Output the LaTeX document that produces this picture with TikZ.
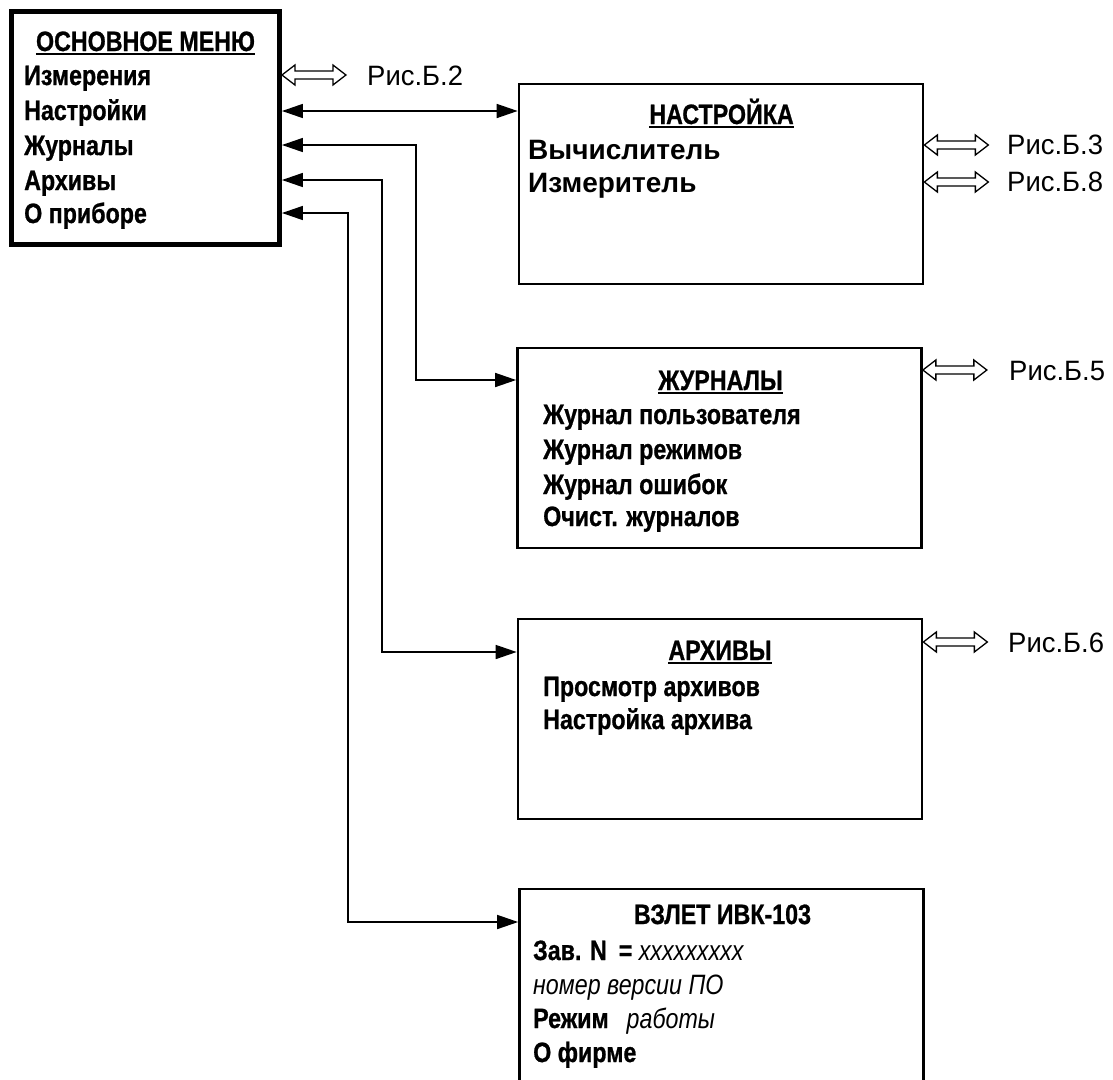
\documentclass[tikz,border=0pt]{standalone}
\usepackage{fontspec}
\setmainfont{Liberation Sans}
\newfontfamily\nfont{Liberation Sans}[FakeStretch=0.83, BoldFeatures={FakeBold=0.8}]
\newfontfamily\wfont{Liberation Sans}[FakeStretch=1.0]
\newfontfamily\rfont{Liberation Sans}[FakeStretch=0.98]
\usetikzlibrary{arrows.meta,calc}
\tikzset{
  harrow/.pic={\draw[line width=1.3pt, line join=miter, fill=white]
     (0,0) -- (13,-10) -- (13,-4) -- (51,-4) -- (51,-10) -- (64,0)
     -- (51,10) -- (51,4) -- (13,4) -- (13,10) -- cycle;},
  menubox/.style={draw, line width=2.7pt, rectangle, inner sep=0pt, minimum width=404pt},
  conn/.style={line width=1.6pt, {Triangle[length=21pt,width=14pt]}-{Triangle[length=21pt,width=14pt]}},
  itm/.style={anchor=base west, inner sep=0pt, font=\nfont\bfseries\fontsize{28}{32}\selectfont},
  ttl/.style={anchor=base, inner sep=0pt, font=\nfont\bfseries\fontsize{28}{32}\selectfont},
  wide/.style={anchor=base west, inner sep=0pt, font=\wfont\bfseries\fontsize{28}{32}\selectfont},
  ris/.style={anchor=base west, inner sep=0pt, font=\rfont\fontsize{28}{32}\selectfont},
  uline/.style={line width=1.8pt}
}
\begin{document}
\begin{tikzpicture}[x=1pt,y=-1pt]
\clip (0,0) rectangle (1113,1079);
\fill[white] (0,0) rectangle (1113,1079);

% main menu
\node[draw, line width=4.5pt, rectangle, inner sep=0pt, minimum width=268.4pt, minimum height=233.4pt] (main) at (145.5,128) {};
\node[ttl] (mt) at (145.5,51) {ОСНОВНОЕ МЕНЮ};
\draw[uline] ([yshift=-3pt]mt.base west) -- ([yshift=-3pt]mt.base east);
\node[itm] (i1) at (24,85) {Измерения};
\node[itm] (i2) at (24,120) {Настройки};
\node[itm] (i3) at (24,155) {Журналы};
\node[itm] (i4) at (24,190) {Архивы};
\node[itm] (i5) at (24,223) {О приборе};

% boxes
\node[menubox, minimum height=200pt] (nast) at (721,184) {};
\node[menubox, minimum height=200pt] (jur) at (719.5,448) {};
\node[menubox, minimum height=200pt] (arh) at (720,719) {};
\node[menubox, minimum width=404pt, minimum height=240pt] (vzl) at (721.5,1009) {};

% Настройка
\node[ttl] (nt) at (721.5,124) {НАСТРОЙКА};
\draw[uline] ([yshift=-3pt]nt.base west) -- ([yshift=-3pt]nt.base east);
\node[wide] (n1) at (528,159) {Вычислитель};
\node[wide] (n2) at (528,192) {Измеритель};

% Журналы
\node[ttl] (jt) at (720.5,390) {ЖУРНАЛЫ};
\draw[uline] ([yshift=-3pt]jt.base west) -- ([yshift=-3pt]jt.base east);
\node[itm] (j1) at (543,424) {Журнал пользователя};
\node[itm] (j2) at (543,459) {Журнал режимов};
\node[itm] (j3) at (543,494) {Журнал ошибок};
\node[itm] (j4) at (543,526) {Очист. журналов};

% Архивы
\node[ttl] (at) at (720,660) {АРХИВЫ};
\draw[uline] ([yshift=-3pt]at.base west) -- ([yshift=-3pt]at.base east);
\node[itm] (a1) at (543,696) {Просмотр архивов};
\node[itm] (a2) at (543,729) {Настройка архива};

% ВЗЛЕТ
\node[ttl] (vt) at (722.5,924) {ВЗЛЕТ ИВК-103};
\node[itm] (v1) at (533,960) {Зав. N\hspace{12pt}= {\mdseries\itshape xxxxxxxxx}};
\node[itm, font=\nfont\itshape\fontsize{28}{32}\selectfont] (v2) at (533,994) {номер версии ПО};
\node[itm] (v3) at (533,1028) {Режим\hspace{18pt}{\mdseries\itshape работы}};
\node[itm] (v4) at (533,1062) {О фирме};

% connectors
\coordinate (y2) at (0,111);
\coordinate (k3) at (416,145);
\coordinate (k4) at (382,180);
\coordinate (k5) at (348,213);
\coordinate (yj) at (0,380);
\coordinate (ya) at (0,652);
\coordinate (yv) at (0,922);
\draw[conn] (main.east |- y2) -- (nast.west |- y2);
\draw[conn] (main.east |- k3) -- (k3) |- (jur.west |- yj);
\draw[conn] (main.east |- k4) -- (k4) |- (arh.west |- ya);
\draw[conn] (main.east |- k5) -- (k5) |- (vzl.west |- yv);

% hollow arrows and figure references
\coordinate (h2) at (0,75);
\coordinate (h3) at (0,145);
\coordinate (h8) at (0,182);
\coordinate (h5) at (0,370);
\coordinate (h6) at (0,642);
\pic at (main.east |- h2) {harrow};
\node[ris] (r2) at (367,85) {Рис.Б.2};
\pic at (nast.east |- h3) {harrow};
\node[ris] (r3) at (1007,154) {Рис.Б.3};
\pic at (nast.east |- h8) {harrow};
\node[ris] (r8) at (1007,191) {Рис.Б.8};
\pic at (jur.east |- h5) {harrow};
\node[ris] (r5) at (1009,380) {Рис.Б.5};
\pic at (arh.east |- h6) {harrow};
\node[ris] (r6) at (1008,652) {Рис.Б.6};
\end{tikzpicture}
\end{document}
